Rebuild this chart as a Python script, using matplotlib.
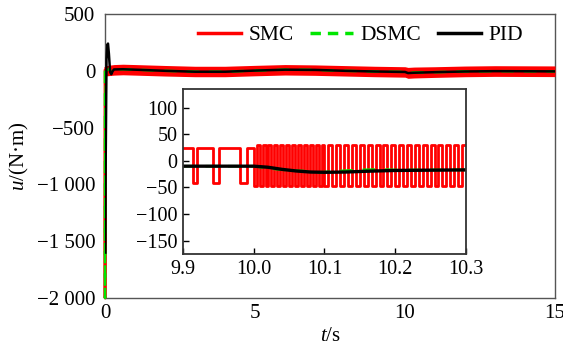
import matplotlib
matplotlib.use('Agg')
import matplotlib.pyplot as plt
import numpy as np
from matplotlib.ticker import FuncFormatter

plt.rcParams['font.family'] = ['Liberation Serif', 'DejaVu Serif']
plt.rcParams['mathtext.fontset'] = 'custom'
plt.rcParams['mathtext.it'] = 'Liberation Serif:italic'
plt.rcParams['mathtext.rm'] = 'Liberation Serif'

# ---- main plot data ----
# start-up transient
smc_t0 = [0.0, 0.001, 0.004, 0.012, 0.025]
smc_u0 = [0, -2000, -1200, -300, 20]
dsmc_t0 = [0.0, 0.001, 0.004, 0.012, 0.03, 0.1, 0.15, 0.2, 0.25, 0.3]
dsmc_u0 = [0, -2000, -1200, -300, 0, 10, 20, -15, 5, 12]
pid_t0 = [0.012, 0.02, 0.05, 0.08, 0.1, 0.13, 0.17, 0.21, 0.25, 0.3]
pid_u0 = [-1600, -900, 100, 230, 240, 150, -10, -30, -5, 12]

# slow trend after transient
trend_t = [0.3, 0.6, 1, 2, 3, 4, 5, 6, 7, 8, 9, 10, 10.1, 10.3, 11, 12, 13, 14, 15]
pid_trend = [12, 14, 10, 0, -8, -8, 2, 10, 8, 0, -6, -10, -20, -17, -12, -6, -3, -4, -5]
dsmc_trend = [12, 14, 10, 0, -8, -8, 2, 10, 8, 0, -6, -10, -18, -15, -12, -6, -3, -4, -5]
# SMC chattering band (upper / lower envelope)
smc_band_t = [0.025, 0.3, 0.6, 1, 2, 3, 4, 5, 6, 7, 8, 9, 10, 10.1, 10.3, 11, 12, 13, 14, 15]
smc_hi = [45, 55, 58, 55, 47, 40, 40, 48, 55, 52, 46, 40, 36, 30, 33, 36, 42, 45, 44, 43]
smc_lo = [-45, -38, -35, -38, -46, -52, -52, -44, -37, -40, -46, -52, -56, -66, -63, -58, -52, -49, -50, -51]

# ---- inset data (9.9 - 10.3 s) ----
smc_slow_switch = [9.9, 9.9146, 9.920, 9.943, 9.951, 9.981, 9.990]   # starts high
smc_slow_hi, smc_slow_lo = 25, -42
smc_fast_spans = [(10.0, 10.1, 12), (10.1, 10.3, 18)]   # (start, end, cycles)
smc_fast_hi, smc_fast_lo = 30, -48

pid_zt = [9.9, 10.0, 10.02, 10.04, 10.06, 10.08, 10.1, 10.13, 10.16, 10.2, 10.25, 10.3]
pid_zu = [-10, -10, -12, -16, -19, -21, -21.5, -21, -19.5, -18, -17.5, -17]
dsmc_zt = [9.9, 10.0, 10.02, 10.035, 10.05, 10.07, 10.09, 10.1, 10.12, 10.15, 10.18, 10.2, 10.25, 10.3]
dsmc_zu = [-10, -10, -14, -16, -18, -19, -22, -21, -19, -17, -16, -17, -17, -17]

# build the inset square wave from the switch times / cycle counts
sw_t = list(smc_slow_switch)
sw_u = [smc_slow_hi if i % 2 == 0 else smc_slow_lo for i in range(len(smc_slow_switch))]
for a, b, n in smc_fast_spans:
    edges = np.linspace(a, b, 2 * n + 1)[:-1]
    for k, e in enumerate(edges):
        sw_t.append(e)
        sw_u.append(smc_fast_lo if k % 2 == 0 else smc_fast_hi)
sw_t.append(10.3)
sw_u.append(sw_u[-1])

red = '#ff0000'
green = '#00e600'

fig = plt.figure(figsize=(5.63, 3.53), dpi=100)
ax = fig.add_axes([0.1865, 0.1558, 0.7993, 0.8045])

ax.fill_between(smc_band_t, smc_lo, smc_hi, color=red, lw=0, zorder=3)
l1, = ax.plot(smc_t0, smc_u0, color=red, lw=2, zorder=3, clip_on=False)
l2, = ax.plot(dsmc_t0 + trend_t, dsmc_u0 + dsmc_trend, color=green, lw=1.8,
              ls=(0, (5, 4)), zorder=3, clip_on=False)
l3, = ax.plot(pid_t0 + trend_t, pid_u0 + pid_trend, color='black', lw=1.8, zorder=4)

ax.set_xlim(0, 15)
ax.set_ylim(-2000, 500)
ax.set_xticks([0, 5, 10, 15])
ax.set_yticks([-2000, -1500, -1000, -500, 0, 500])


def thousands(v, pos):
    s = f"{abs(int(round(v))):,}".replace(',', ' ')
    return ('\u2212' if v < 0 else '') + s


ax.yaxis.set_major_formatter(FuncFormatter(thousands))
ax.tick_params(length=0, labelsize=15, pad=7)
ax.tick_params(axis='x', pad=4)
for s in ax.spines.values():
    s.set_color('#555555')
    s.set_linewidth(1.0)
ax.set_xlabel(r'$t$/s', fontsize=15, labelpad=3)
ax.set_ylabel(r'$u$/(N·m)', fontsize=15, labelpad=4)

h1 = plt.Line2D([], [], color=red, lw=2.5)
h2 = plt.Line2D([], [], color=green, lw=2.5, ls=(0, (3, 2)))
h3 = plt.Line2D([], [], color='black', lw=2.5)
ax.legend([h1, h2, h3], ['SMC', 'DSMC', 'PID'], ncol=3, frameon=False, fontsize=15.5,
          loc='center right', bbox_to_anchor=(523 / 563, 1 - 35 / 353),
          bbox_transform=fig.transFigure, borderpad=0, borderaxespad=0,
          handlelength=2.0, handletextpad=0.35, columnspacing=0.75)

# ---- inset ----
axi = fig.add_axes([183 / 563, 1 - 254 / 353, 283 / 563, 165 / 353], zorder=5)
axi.plot(sw_t, sw_u, color=red, lw=2, drawstyle='steps-post')
axi.plot(dsmc_zt, dsmc_zu, color=green, lw=1.8, ls=(0, (5, 4)))
axi.plot(pid_zt, pid_zu, color='black', lw=2.4)
axi.set_xlim(9.9, 10.3)
axi.set_ylim(-175, 135)
axi.set_xticks([9.9, 10.0, 10.1, 10.2, 10.3])
axi.set_yticks([-150, -100, -50, 0, 50, 100])
axi.xaxis.set_major_formatter(FuncFormatter(lambda v, p: f"{v:.1f}"))
axi.yaxis.set_major_formatter(FuncFormatter(lambda v, p: ('\u2212' if v < 0 else '') + f"{abs(int(round(v)))}"))
axi.tick_params(direction='in', length=4, width=1, labelsize=14.5, pad=4, top=False, right=False)
for s in axi.spines.values():
    s.set_color('#333333')
    s.set_linewidth(1.3)

fig.savefig('out.png', dpi=100)
